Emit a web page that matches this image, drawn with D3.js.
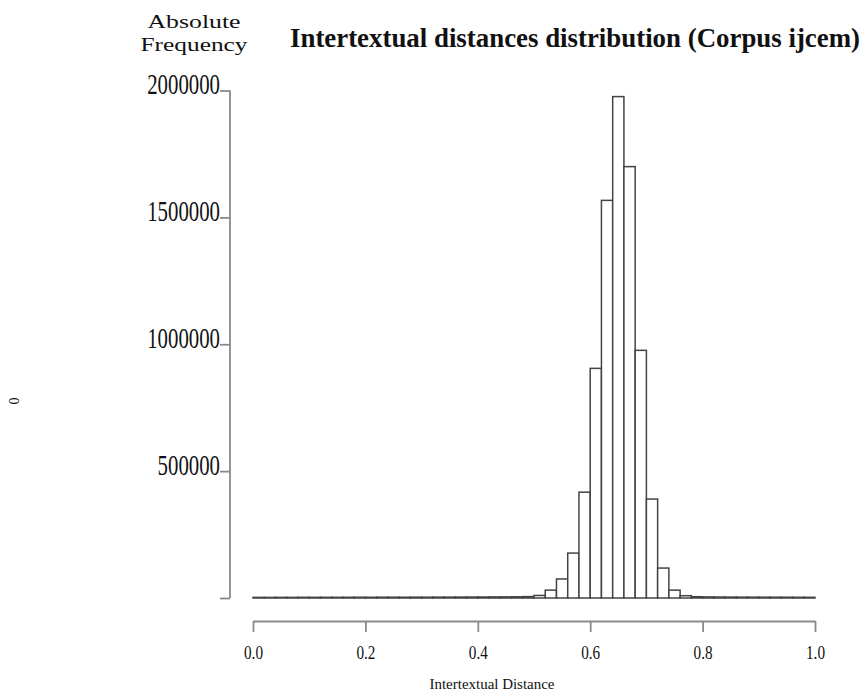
<html>
<head>
<style>
body { margin: 0; background: #fff; }
text { font-family: "Liberation Serif", "DejaVu Serif", serif; fill: #111; }
.bar { fill: #fff; stroke: #444; stroke-width: 1.5px; }
.axis path, .axis line { stroke: #8a8a8a; stroke-width: 1.8px; }
</style>
</head>
<body>
<svg width="863" height="691"></svg>
<script src="https://d3js.org/d3.v7.min.js"></script>
<script>
// histogram bins of width 0.02, left edges 0.00 .. 0.98
var binStart = d3.range(50).map(function (i) { return +(i * 0.02).toFixed(2) })
var counts = [
  2500, 2400, 2600, 2500, 2700, 2600, 2800, 2700, 2900, 3000,
  2900, 3100, 3200, 3000, 3300, 3200, 3400, 3500, 3600, 3800,
  4000, 4200, 4500, 4800, 5500, 10000, 31000, 75000, 177000, 417000,
  905000, 1567000, 1976000, 1700000, 976000, 390000, 118000, 31000, 9000, 5000,
  4200, 3800, 3600, 3400, 3300, 3200, 3100, 3000, 2900, 2800
]
var binWidth = 0.02
var xTicks = [0, 0.2, 0.4, 0.6, 0.8, 1.0]
var yTicks = [0, 500000, 1000000, 1500000, 2000000]

const svg = d3.select('svg')

const x = d3.scaleLinear().domain([0, 1]).range([253, 815])
const y = d3.scaleLinear().domain([0, 2000000]).range([598, 90.5])

// bars
svg.append('g')
  .selectAll('.bar')
  .data(binStart)
  .enter().append('rect')
  .attr('class', 'bar')
  .attr('x', function (d) { return x(d) })
  .attr('width', function () { return x(binWidth) - x(0) })
  .attr('y', function (d, i) { return y(counts[i]) })
  .attr('height', function (d, i) { return y(0) - y(counts[i]) })

// y axis
const yAxis = svg.append('g')
  .attr('class', 'axis')
  .attr('transform', 'translate(230,0)')
  .call(d3.axisLeft(y).tickValues(yTicks).tickSize(10).tickSizeOuter(0)
    .tickFormat(function (d) { return d === 0 ? '' : String(d) }))
yAxis.select('.domain').remove()
yAxis.append('line')
  .attr('x1', 0).attr('x2', 0)
  .attr('y1', y(2000000)).attr('y2', y(0))
  .attr('stroke', '#8a8a8a').attr('stroke-width', 1.8)
yAxis.selectAll('.tick text')
  .attr('x', -10)
  .attr('dy', '0.12em')
  .style('font-size', '29px')
  .attr('textLength', function (d) { return String(d).length * 10.4 })
  .attr('lengthAdjust', 'spacingAndGlyphs')

// x axis
const xAxis = svg.append('g')
  .attr('class', 'axis')
  .attr('transform', 'translate(0,621)')
  .call(d3.axisBottom(x).tickValues(xTicks).tickSize(11).tickSizeOuter(0)
    .tickFormat(d3.format('.1f')))
xAxis.selectAll('.tick text')
  .attr('y', 38)
  .attr('dy', 0)
  .style('font-size', '18px')
  .attr('textLength', 19)
  .attr('lengthAdjust', 'spacingAndGlyphs')

// titles
svg.append('text')
  .attr('x', 575).attr('y', 47)
  .attr('text-anchor', 'middle')
  .style('font-size', '27px').style('font-weight', 'bold')
  .attr('textLength', 570).attr('lengthAdjust', 'spacingAndGlyphs')
  .text('Intertextual distances distribution (Corpus ijcem)')

svg.append('text')
  .attr('x', 194).attr('y', 28)
  .attr('text-anchor', 'middle')
  .style('font-size', '19px')
  .attr('textLength', 93).attr('lengthAdjust', 'spacingAndGlyphs')
  .text('Absolute')
svg.append('text')
  .attr('x', 194).attr('y', 51)
  .attr('text-anchor', 'middle')
  .style('font-size', '19px')
  .attr('textLength', 107).attr('lengthAdjust', 'spacingAndGlyphs')
  .text('Frequency')

svg.append('text')
  .attr('x', 492).attr('y', 689)
  .attr('text-anchor', 'middle')
  .style('font-size', '14px')
  .attr('textLength', 125).attr('lengthAdjust', 'spacingAndGlyphs')
  .text('Intertextual Distance')

// stray rotated zero label on the far left
svg.append('text')
  .attr('transform', 'translate(19,401) rotate(-90)')
  .attr('text-anchor', 'middle')
  .style('font-size', '14px')
  .text('0')
</script>
</body>
</html>
